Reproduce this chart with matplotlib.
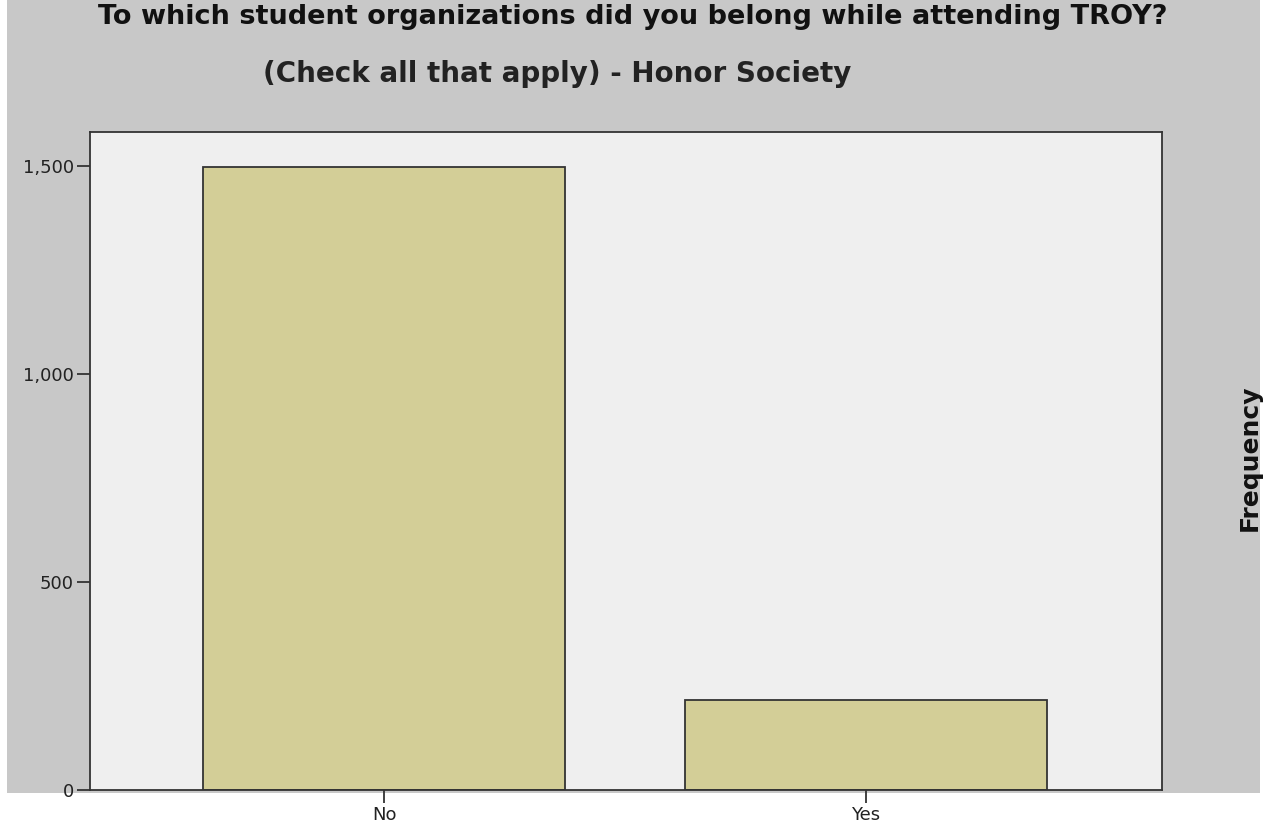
import matplotlib.pyplot as plt
from matplotlib.patches import Rectangle

categories = ['No', 'Yes']
counts = [1497, 216]
yticks = [0, 500, 1000, 1500]
title1 = 'To which student organizations did you belong while attending TROY?'
title2 = '(Check all that apply) - Honor Society'

W, H = 1269, 830
fig = plt.figure(figsize=(W / 100, H / 100), dpi=100, facecolor='white')

# grey chart frame behind the plot
fig.patches.append(Rectangle((7 / W, 1 - 793 / H), (1260 - 7) / W, 793 / H,
                             transform=fig.transFigure, facecolor='#C8C8C8',
                             edgecolor='none', zorder=-5))

ax = fig.add_axes([90 / W, 1 - 790 / H, (1162 - 90) / W, (790 - 132) / H])
ax.set_zorder(2)
ax.set_facecolor('#EFEFEF')
ax.bar(range(len(categories)), counts, width=0.75, color='#D3CE97',
       edgecolor='#333333', linewidth=1.3, zorder=2)

ax.set_xlim(-0.61, 1.614)
ax.set_ylim(0, 1582)
ax.set_xticks(range(len(categories)))
ax.set_xticklabels(categories)
ax.set_yticks(yticks)
ax.set_yticklabels([f'{v:,}' for v in yticks])
ax.tick_params(axis='both', length=9.5, width=1.3, color='#333333',
               labelsize=13, labelcolor='#222222', pad=2)
for s in ax.spines.values():
    s.set_color('#333333')
    s.set_linewidth(1.3)

fig.text(633 / W, 1 - 17 / H, title1, ha='center', va='center',
         fontsize=19.5, fontweight='bold', color='#111111')
fig.text(557 / W, 1 - 74 / H, title2, ha='center', va='center',
         fontsize=20, fontweight='bold', color='#222222')
fig.text(1250 / W, 1 - 458 / H, 'Frequency', rotation=90, ha='center',
         va='center', fontsize=18, fontweight='bold', color='#111111')

fig.savefig('out.png', dpi=100, facecolor='white')
